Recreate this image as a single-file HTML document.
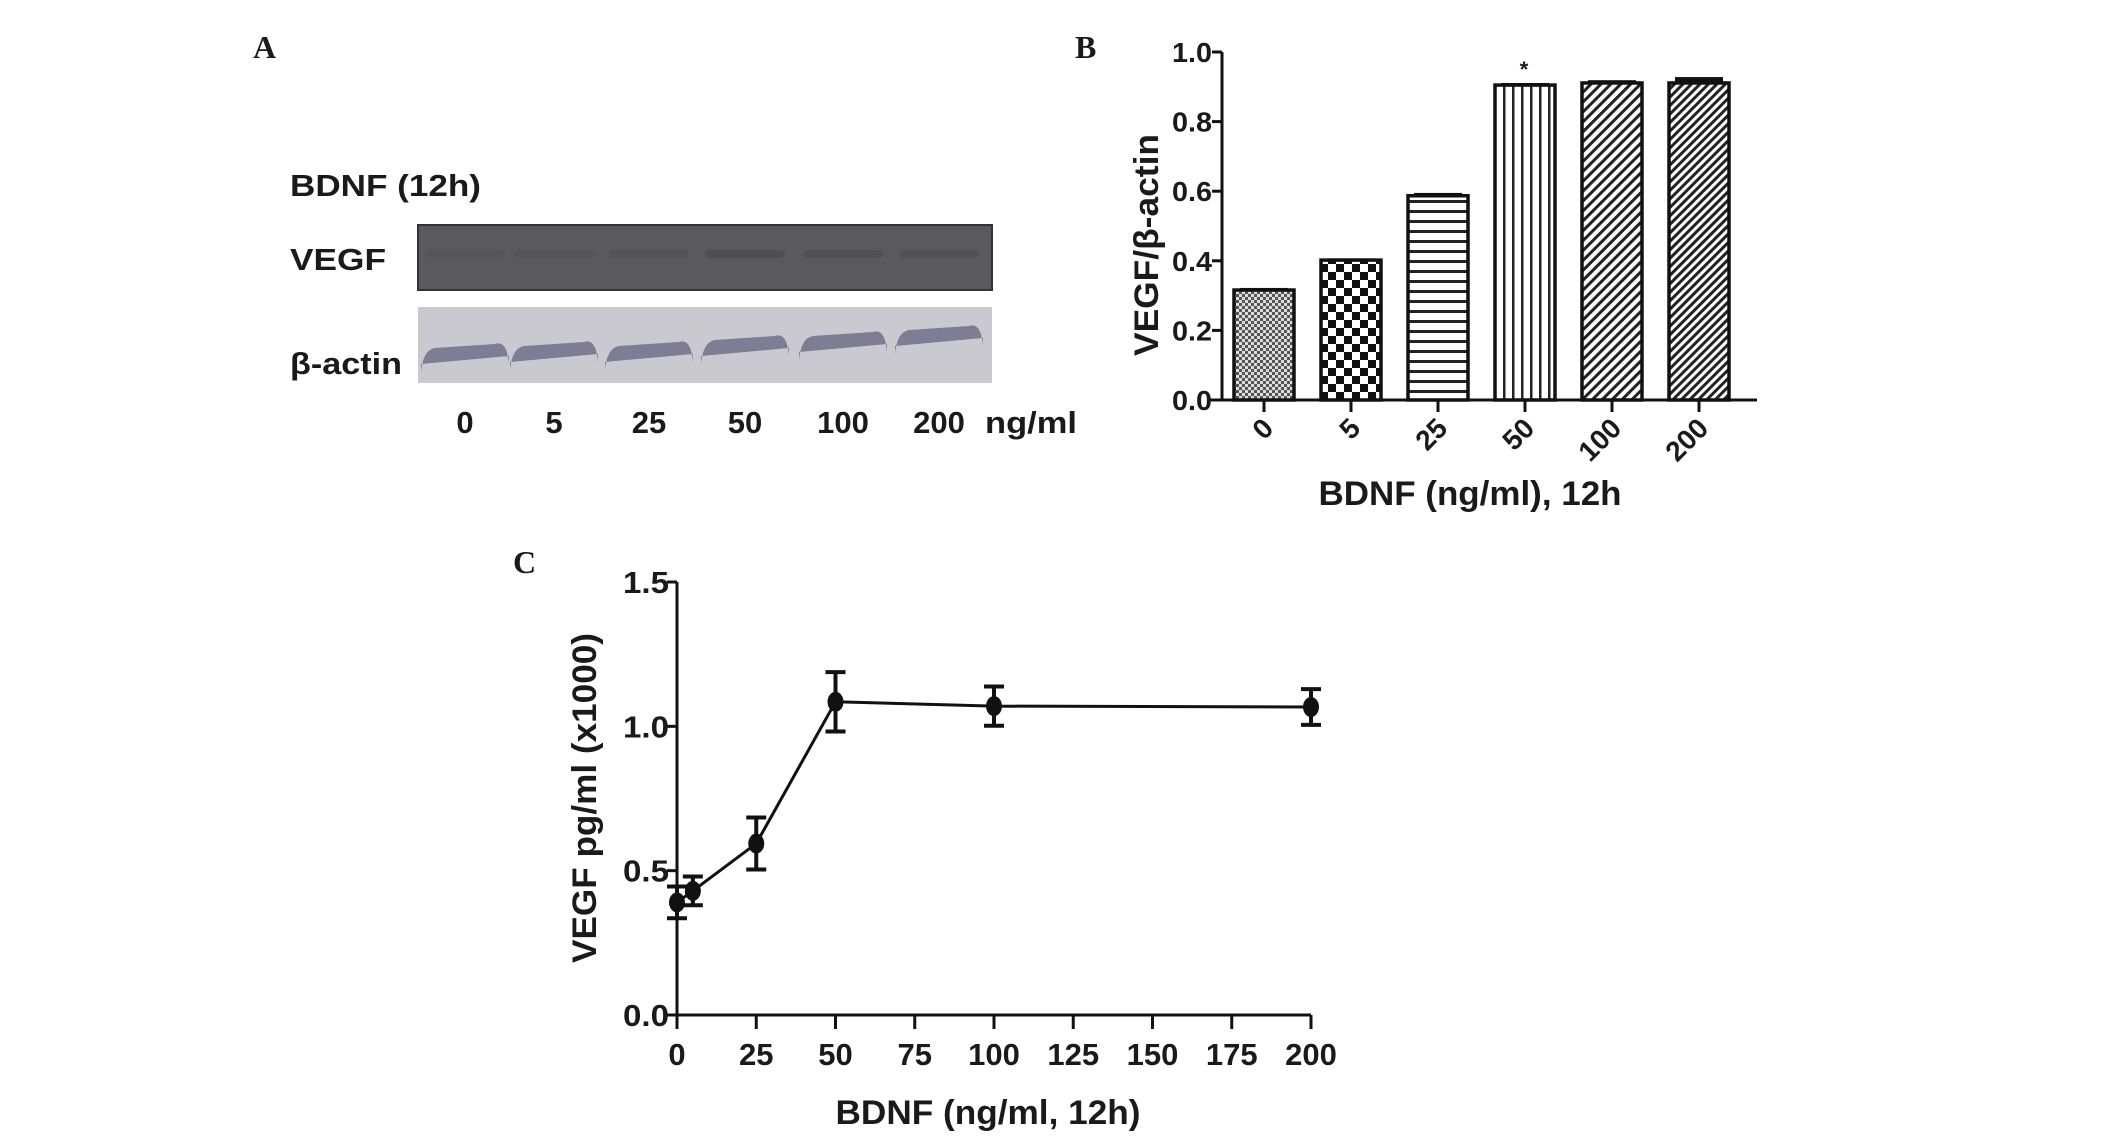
<!DOCTYPE html>
<html><head><meta charset="utf-8"><style>
html,body{margin:0;padding:0;background:#fff;}
svg{display:block;}
text{font-family:"Liberation Sans",Arial,sans-serif;font-weight:bold;fill:#1a1a1a;}
.pl{font-family:"Liberation Serif",serif;font-weight:bold;font-size:32px;}
</style></head><body>
<svg id="fig" width="2126" height="1139" viewBox="0 0 2126 1139">
<defs>
<pattern id="p0" width="6" height="6" patternUnits="userSpaceOnUse"><rect width="6" height="6" fill="#ddd"/><rect width="3" height="3" fill="#555"/><rect x="3" y="3" width="3" height="3" fill="#555"/></pattern>
<pattern id="p1" width="16" height="16" patternUnits="userSpaceOnUse"><rect width="16" height="16" fill="#fff"/><rect width="8" height="8" fill="#111"/><rect x="8" y="8" width="8" height="8" fill="#111"/></pattern>
<pattern id="p2" width="10" height="10" patternUnits="userSpaceOnUse"><rect width="10" height="10" fill="#fff"/><rect y="0" width="10" height="3" fill="#222"/></pattern>
<pattern id="p3" width="9" height="10" patternUnits="userSpaceOnUse"><rect width="9" height="10" fill="#fff"/><rect x="0" width="2.5" height="10" fill="#222"/></pattern>
<pattern id="p4" width="7" height="7" patternUnits="userSpaceOnUse" patternTransform="rotate(45)"><rect width="7" height="7" fill="#fff"/><rect width="3" height="7" fill="#222"/></pattern>
<pattern id="p5" width="6" height="6" patternUnits="userSpaceOnUse" patternTransform="rotate(45)"><rect width="6" height="6" fill="#fff"/><rect width="3" height="6" fill="#222"/></pattern>
</defs>

<!-- Panel A -->
<text class="pl" x="253" y="58">A</text>
<text x="290" y="196" font-size="31" textLength="191" lengthAdjust="spacingAndGlyphs">BDNF (12h)</text>
<text x="290" y="270" font-size="31" textLength="96" lengthAdjust="spacingAndGlyphs">VEGF</text>
<text x="290" y="374" font-size="31" textLength="112" lengthAdjust="spacingAndGlyphs">β-actin</text>
<rect x="418" y="225" width="574" height="65" fill="#5a5a5e" stroke="#333" stroke-width="2"/>
<rect x="418" y="307" width="574" height="76" fill="#c9c9cf"/>
<g id="bands"></g>
<g id="laneLabels"></g>

<!-- Panel B -->
<text class="pl" x="1075" y="58">B</text>
<g id="chartB"></g>

<!-- Panel C -->
<text class="pl" x="513" y="573">C</text>
<g id="chartC"></g>
</svg>
<script>
const NS="http://www.w3.org/2000/svg";
function mk(tag,attrs,parent){const e=document.createElementNS(NS,tag);for(const k in attrs)e.setAttribute(k,attrs[k]);parent.appendChild(e);return e;}

// ---- Panel A data ----
const laneLabels=["0","5","25","50","100","200"];
const laneX=[465,554,649,745,843,939];
const vegfIntensity=[0.1,0.15,0.2,0.35,0.3,0.25];
const actinOffset=[0,-2,-2,-8,-12,-18];
const bandsG=document.getElementById('bands');
laneLabels.forEach((l,i)=>{
  const v=mk('rect',{x:laneX[i]-40,y:250,width:80,height:8,rx:4,fill:'#3a3a3e','fill-opacity':vegfIntensity[i]},bandsG);
  
  
  const o=actinOffset[i],x=laneX[i];
  const a=mk('path',{d:`M${x-44},${372+o} Q${x-42},${350+o} ${x-30},${348+o} L${x+30},${344+o} Q${x+42},${340+o} ${x+44},${364+o} L${x+44},${356+o} Q${x},${360+o} ${x-44},${364+o}Z`,fill:'#7d7d93'},bandsG);
  
  
  const t=mk('text',{x:x,y:433,'font-size':31,'text-anchor':'middle'},document.getElementById('laneLabels'));
  t.textContent=l;
  
  
});
const ngml=mk('text',{x:985,y:433,'font-size':31,textLength:92,lengthAdjust:'spacingAndGlyphs'},document.getElementById('laneLabels'));
ngml.textContent='ng/ml';



// ---- Panel B data ----
const bCats=["0","5","25","50","100","200"];
const bVals=[0.316,0.402,0.587,0.905,0.911,0.911];
const bErr=[0.006,0.005,0.008,0.006,0.008,0.017];
const bTicks=[0,0.2,0.4,0.6,0.8,1.0];
const bTickLabels=["0.0","0.2","0.4","0.6","0.8","1.0"];
const B=document.getElementById('chartB');
const bx0=1222,by0=400,byTop=52;
const bY=v=>by0-(by0-byTop)*v/1.0;
const bX=i=>1264+87*i;
bCats.forEach((c,i)=>{
  const cx=bX(i),w=60;
  const eb=mk('rect',{x:cx-24,y:bY(bVals[i]+bErr[i]),width:48,height:bY(bVals[i])-bY(bVals[i]+bErr[i])+2,fill:'#111'},B);
  
  
  const r=mk('rect',{x:cx-w/2,y:bY(bVals[i]),width:w,height:by0-bY(bVals[i]),fill:`url(#p${i})`,stroke:'#111','stroke-width':3.5},B);
  
  
  const tk=mk('line',{x1:cx,y1:by0,x2:cx,y2:by0+12,stroke:'#111','stroke-width':3},B);
  
  
  const t=mk('text',{x:0,y:0,'font-size':28,'text-anchor':'end',transform:`translate(${cx+11},${by0+30}) rotate(-45)`},B);
  t.textContent=c;
  
  
});
const star=mk('text',{x:bX(3)-1,y:bY(bVals[3]+bErr[3])-6,'font-size':22,'text-anchor':'middle'},B);
star.textContent='*';


const bxa=mk('line',{x1:bx0-12,y1:by0,x2:1757,y2:by0,stroke:'#111','stroke-width':3},B);


const bya=mk('line',{x1:bx0,y1:byTop,x2:bx0,y2:by0,stroke:'#111','stroke-width':3},B);


bTicks.forEach((v,i)=>{
  const l=mk('line',{x1:bx0-10,y1:bY(v),x2:bx0,y2:bY(v),stroke:'#111','stroke-width':3},B);
  
  
  const t=mk('text',{x:bx0-10,y:bY(v)+10,'font-size':28,'text-anchor':'end',textLength:40,lengthAdjust:'spacingAndGlyphs'},B);
  t.textContent=bTickLabels[i];
  
  
});
const bYT=mk('text',{x:0,y:0,'font-size':34,'text-anchor':'middle',transform:'translate(1158,245) rotate(-90)',textLength:222,lengthAdjust:'spacingAndGlyphs'},B);
bYT.textContent='VEGF/β-actin';


const bXT=mk('text',{x:1470,y:505,'font-size':34,'text-anchor':'middle',textLength:303,lengthAdjust:'spacingAndGlyphs'},B);
bXT.textContent='BDNF (ng/ml), 12h';



// ---- Panel C data ----
const cDoses=[0,5,25,50,100,200];
const cVals=[0.39,0.43,0.594,1.085,1.07,1.067];
const cErr=[0.055,0.05,0.09,0.103,0.068,0.062];
const cXTicks=[0,25,50,75,100,125,150,175,200];
const cYTicks=[0,0.5,1.0,1.5];
const cYTickLabels=["0.0","0.5","1.0","1.5"];
const C=document.getElementById('chartC');
const cx0=677,cy0=1015,cyTop=582,cxEnd=1311;
const cX=v=>cx0+(cxEnd-cx0)*v/200;
const cY=v=>cy0-(cy0-cyTop)*v/1.5;
const cxa=mk('line',{x1:cx0-10,y1:cy0,x2:cxEnd,y2:cy0,stroke:'#111','stroke-width':3},C);


const cya=mk('line',{x1:cx0,y1:cyTop,x2:cx0,y2:cy0+14,stroke:'#111','stroke-width':3},C);


cXTicks.forEach(v=>{
  const l=mk('line',{x1:cX(v),y1:cy0,x2:cX(v),y2:cy0+14,stroke:'#111','stroke-width':3},C);
  
  
  const t=mk('text',{x:cX(v),y:1065,'font-size':31,'text-anchor':'middle'},C);
  t.textContent=v;
  
  
});
cYTicks.forEach((v,i)=>{
  const l=mk('line',{x1:cx0-10,y1:cY(v),x2:cx0,y2:cY(v),stroke:'#111','stroke-width':3},C);
  
  
  const t=mk('text',{x:cx0-8,y:cY(v)+11,'font-size':31,'text-anchor':'end',textLength:46,lengthAdjust:'spacingAndGlyphs'},C);
  t.textContent=cYTickLabels[i];
  
  
});
const line=mk('polyline',{points:cDoses.map((d,i)=>cX(d)+','+cY(cVals[i])).join(' '),fill:'none',stroke:'#111','stroke-width':3},C);


cDoses.forEach((d,i)=>{
  const x=cX(d),yt=cY(cVals[i]+cErr[i]),yb=cY(cVals[i]-cErr[i]);
  const e=mk('path',{d:`M${x},${yt}V${yb}M${x-10},${yt}H${x+10}M${x-10},${yb}H${x+10}`,stroke:'#111','stroke-width':4,fill:'none'},C);
  
  
  const p=mk('ellipse',{cx:x,cy:cY(cVals[i]),rx:8,ry:10,fill:'#111'},C);
  
  
});
const cYT=mk('text',{x:0,y:0,'font-size':34,'text-anchor':'middle',transform:'translate(596,798) rotate(-90)',textLength:330,lengthAdjust:'spacingAndGlyphs'},C);
cYT.textContent='VEGF pg/ml (x1000)';


const cXT=mk('text',{x:988,y:1124,'font-size':34,'text-anchor':'middle',textLength:305,lengthAdjust:'spacingAndGlyphs'},C);
cXT.textContent='BDNF (ng/ml, 12h)';


</script>
</body></html>
